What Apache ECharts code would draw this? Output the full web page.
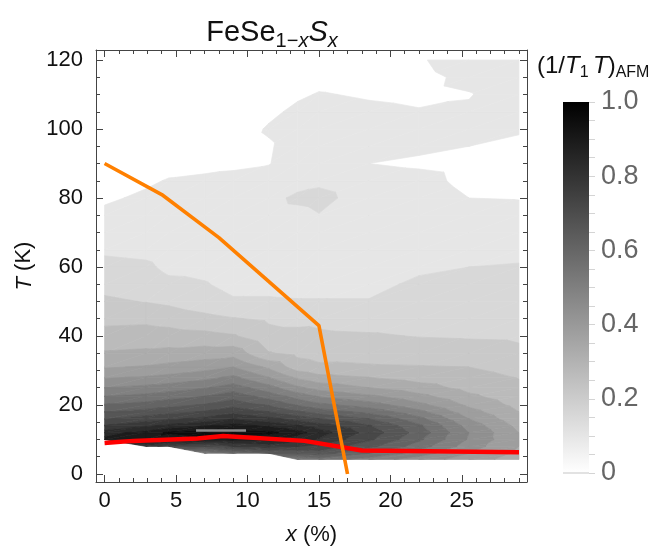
<!DOCTYPE html>
<html><head><meta charset="utf-8">
<script src="https://cdn.jsdelivr.net/npm/echarts@6/dist/echarts.min.js"></script>
<style>html,body{margin:0;padding:0;background:#fff}#c{width:662px;height:552px}</style>
</head><body><div id="c"></div>
<script>
// ---------------- data ----------------
// grid of (1/T1T)_AFM values: one array per x column, entries follow tRows
const xColumns = [0, 2.9, 4.5, 7, 9, 11.5, 13.5, 15, 18.5, 22, 25.5, 29];
const tRows = [4.2, 6, 8, 10, 12, 14, 16, 18, 20, 22.5, 25, 28, 31, 35, 40, 45, 50, 55, 60, 65, 70, 75, 80, 85, 90, 95, 100, 105, 110, 115, 120];
const afm_x0    = [null,null,null,0.765,0.73,0.655,0.595,0.55,0.505,0.45,0.4,0.345,0.295,0.255,0.22,0.185,0.158,0.135,0.113,0.093,0.075,0.06,0.043,0.03,0.025,0.025,0.025,0.025,0.025,0.025,0.025];
const afm_x2_9  = [null,null,0.675,0.78,0.77,0.69,0.625,0.57,0.52,0.465,0.415,0.355,0.305,0.26,0.223,0.188,0.148,0.125,0.108,0.088,0.078,0.065,0.058,0.043,0.025,0.025,0.025,0.025,0.025,0.025,0.025];
const afm_x4_5  = [null,null,0.625,0.765,0.81,0.715,0.64,0.585,0.535,0.48,0.425,0.365,0.315,0.265,0.22,0.18,0.14,0.11,0.09,0.08,0.075,0.07,0.063,0.053,0.035,0.025,0.025,0.025,0.025,0.025,0.025];
const afm_x7    = [null,0.45,0.6,0.78,0.83,0.745,0.665,0.605,0.555,0.5,0.445,0.385,0.33,0.275,0.215,0.165,0.12,0.103,0.088,0.08,0.078,0.075,0.068,0.058,0.038,0.025,0.025,0.025,0.025,0.025,0.025];
const afm_x9    = [null,0.5,0.65,0.77,0.835,0.77,0.695,0.635,0.585,0.53,0.475,0.41,0.35,0.28,0.205,0.153,0.105,0.088,0.08,0.078,0.075,0.075,0.073,0.06,0.043,0.03,0.025,0.025,0.025,0.025,0.025];
const afm_x11_5 = [null,0.55,0.675,0.765,0.815,0.74,0.665,0.6,0.545,0.48,0.42,0.35,0.29,0.203,0.165,0.143,0.105,0.088,0.08,0.078,0.078,0.08,0.085,0.07,0.048,0.045,0.055,0.04,0.03,0.025,0.025];
const afm_x13_5 = [0.45,0.565,0.65,0.725,0.77,0.705,0.63,0.56,0.495,0.43,0.36,0.29,0.225,0.188,0.165,0.135,0.103,0.085,0.08,0.078,0.08,0.085,0.11,0.08,0.075,0.073,0.07,0.06,0.043,0.03,0.025];
const afm_x15   = [0.475,0.575,0.64,0.695,0.725,0.675,0.6,0.53,0.465,0.395,0.33,0.265,0.21,0.18,0.158,0.138,0.103,0.085,0.08,0.078,0.075,0.098,0.115,0.09,0.078,0.075,0.073,0.068,0.053,0.035,0.025];
const afm_x18_5 = [0.425,0.5,0.565,0.61,0.63,0.605,0.55,0.485,0.425,0.36,0.3,0.25,0.205,0.183,0.155,0.13,0.103,0.085,0.08,0.078,0.075,0.075,0.075,0.07,0.05,0.065,0.07,0.06,0.045,0.03,0.025];
const afm_x22   = [0.375,0.425,0.475,0.51,0.53,0.51,0.465,0.415,0.365,0.315,0.27,0.23,0.203,0.178,0.148,0.128,0.12,0.11,0.09,0.08,0.078,0.075,0.075,0.065,0.043,0.058,0.068,0.053,0.04,0.038,0.045];
const afm_x25_5 = [0.325,0.35,0.375,0.395,0.4,0.38,0.35,0.32,0.29,0.26,0.235,0.215,0.2,0.173,0.145,0.125,0.115,0.105,0.1,0.085,0.08,0.07,0.05,0.038,0.035,0.05,0.065,0.055,0.048,0.06,0.075];
const afm_x29   = [0.275,0.29,0.3,0.305,0.3,0.285,0.265,0.25,0.235,0.22,0.21,0.198,0.185,0.16,0.143,0.13,0.12,0.11,0.103,0.09,0.08,0.065,0.048,0.03,0.03,0.04,0.055,0.068,0.07,0.073,0.075];
const afmColumns = [afm_x0, afm_x2_9, afm_x4_5, afm_x7, afm_x9, afm_x11_5, afm_x13_5, afm_x15, afm_x18_5, afm_x22, afm_x25_5, afm_x29];
const contourLevels = [0.05,0.10,0.15,0.20,0.25,0.30,0.35,0.40,0.45,0.50,0.55,0.60,0.65,0.70,0.75,0.80,0.85];

// structural transition Ts (orange) and superconducting Tc (red)
const tsX = [0, 4, 8, 15, 17];
const tsT = [90, 81, 68.5, 43, 0];
const tcX = [0, 2, 6.5, 8.3, 14, 18, 29];
const tcT = [9.0, 9.6, 10.3, 11.0, 9.6, 6.8, 6.3];
// thin light streak at the maximum
const peakX = [6.4, 9.9];
const peakT = [12.6, 12.6];

// ticks
const xMajorTicks = [0, 5, 10, 15, 20, 25];
const xMinorTicks = [0,1,2,3,4,5,6,7,8,9,10,11,12,13,14,15,16,17,18,19,20,21,22,23,24,25,26,27,28,29];
const yMajorTicks = [0, 20, 40, 60, 80, 100, 120];
const yMinorTicks = [0,5,10,15,20,25,30,35,40,45,50,55,60,65,70,75,80,85,90,95,100,105,110,115,120];
const cbarLabels = [0, 0.2, 0.4, 0.6, 0.8, 1.0];
const cbarMinor = [0,0.05,0.1,0.15,0.2,0.25,0.3,0.35,0.4,0.45,0.5,0.55,0.6,0.65,0.7,0.75,0.8,0.85,0.9,0.95,1.0];
const cbarRange = [0, 1];

// ---------------- contour geometry ----------------
function clipPoly(poly, level, keepAbove) {
  const out = [];
  for (let i = 0; i < poly.length; i++) {
    const a = poly[i], b = poly[(i + 1) % poly.length];
    const ina = keepAbove ? a[2] >= level : a[2] <= level;
    const inb = keepAbove ? b[2] >= level : b[2] <= level;
    if (ina) out.push(a);
    if (ina !== inb) {
      const t = (level - a[2]) / (b[2] - a[2]);
      out.push([a[0] + t * (b[0] - a[0]), a[1] + t * (b[1] - a[1]), level]);
    }
  }
  return out;
}
const tris = [];
function node(i, j) {
  const v = afmColumns[i][j];
  return v == null ? null : [xColumns[i], tRows[j], v];
}
for (let i = 0; i < xColumns.length - 1; i++) {
  for (let j = 0; j < tRows.length - 1; j++) {
    const a = node(i, j), b = node(i + 1, j), c = node(i + 1, j + 1), d = node(i, j + 1);
    const pts = [a, b, c, d];
    const nn = pts.filter(p => !p).length;
    if (nn === 0) { tris.push([a, b, c], [a, c, d]); }
    else if (nn === 1) { tris.push(pts.filter(p => p)); }
  }
}
const bandPolys = [];
for (let k = 0; k < contourLevels.length; k++) {
  const lo = contourLevels[k], hi = contourLevels[k + 1];
  tris.forEach(tri => {
    let p = clipPoly(tri, lo, true);
    if (p.length >= 3 && hi !== undefined) p = clipPoly(p, hi, false);
    if (p.length >= 3) bandPolys.push({ k: k, pts: p });
  });
}
function bandColor(k) {
  const g = Math.max(0, Math.round(230 - 14.4 * k));
  return 'rgb(' + g + ',' + g + ',' + g + ')';
}

// ---------------- chart ----------------
const FONT = "'Liberation Sans', Arial, Helvetica, sans-serif";
const X_MIN = -0.6, X_MAX = 29.56, Y_MIN = -2.32, Y_MAX = 122.9;
const FRAME = '#444';

function frameAxis(dim, pos, ticks, len, showLine, showLabels) {
  const ax = {
    type: 'value', gridIndex: 0, position: pos,
    min: dim === 'x' ? X_MIN : Y_MIN, max: dim === 'x' ? X_MAX : Y_MAX,
    z: 10,
    axisLine: { show: showLine, onZero: false, lineStyle: { color: FRAME, width: 1 } },
    axisTick: { show: true, inside: true, length: len, customValues: ticks, lineStyle: { color: FRAME, width: 1 } },
    axisLabel: showLabels ? { show: true, customValues: ticks, color: '#111', fontSize: 22, fontFamily: FONT, margin: dim === 'x' ? 8 : 13 } : { show: false },
    splitLine: { show: false }
  };
  return ax;
}
const xAxes = [
  frameAxis('x', 'bottom', xMajorTicks, 7, true, true),
  frameAxis('x', 'bottom', xMinorTicks, 4, false, false),
  frameAxis('x', 'top', xMajorTicks, 7, true, false),
  frameAxis('x', 'top', xMinorTicks, 4, false, false),
  { type: 'category', gridIndex: 1, data: ['c'], show: false }
];
xAxes[0].name = '{i|x} (%)';
xAxes[0].nameLocation = 'middle';
xAxes[0].nameGap = 42;
xAxes[0].nameTextStyle = { fontSize: 22, color: '#111', fontFamily: FONT, rich: { i: { fontSize: 22, fontStyle: 'italic', fontFamily: FONT, color: '#111' } } };

const yAxes = [
  frameAxis('y', 'left', yMajorTicks, 7, true, true),
  frameAxis('y', 'left', yMinorTicks, 4, false, false),
  frameAxis('y', 'right', yMajorTicks, 7, true, false),
  frameAxis('y', 'right', yMinorTicks, 4, false, false),
  {
    type: 'value', gridIndex: 1, position: 'right', min: cbarRange[0], max: cbarRange[1],
    axisLine: { show: false },
    axisTick: { show: true, inside: false, length: 6, customValues: cbarMinor, lineStyle: { color: '#d4d4d4', width: 1 } },
    axisLabel: { show: true, customValues: cbarLabels, margin: 12, color: '#666', fontSize: 27, fontFamily: FONT,
      formatter: v => (v === 0 ? '0' : v.toFixed(1)) },
    splitLine: { show: false }
  }
];
yAxes[0].name = '{i|T} (K)';
yAxes[0].nameLocation = 'middle';
yAxes[0].nameRotate = 90;
yAxes[0].nameGap = 58;
yAxes[0].nameTextStyle = { fontSize: 22, color: '#111', fontFamily: FONT, rich: { i: { fontSize: 22, fontStyle: 'italic', fontFamily: FONT, color: '#111' } } };

const chart = echarts.init(document.getElementById('c'), null, { renderer: 'canvas' });
chart.setOption({
  animation: false,
  backgroundColor: '#fff',
  title: {
    text: '{n|FeSe}{s|1−}{si|x}{i|S}{si|x}',
    left: 267, top: 10, textAlign: 'center',
    textStyle: {
      fontWeight: 'normal',
      rich: {
        n: { fontSize: 29, fontFamily: FONT, fontWeight: 'normal', color: '#111', lineHeight: 36 },
        i: { fontSize: 29, fontFamily: FONT, fontWeight: 'normal', fontStyle: 'italic', color: '#111', lineHeight: 36 },
        s: { fontSize: 20, fontFamily: FONT, fontWeight: 'normal', color: '#111', verticalAlign: 'bottom', lineHeight: 16 },
        si: { fontSize: 20, fontFamily: FONT, fontWeight: 'normal', fontStyle: 'italic', color: '#111', verticalAlign: 'bottom', lineHeight: 16 }
      }
    }
  },
  graphic: [{
    type: 'text', left: 537, top: 54, z: 20,
    style: {
      text: '{m|(1/}{i|T}{s|1 }{i|T}{m|)}{s|AFM}',
      rich: {
        m: { fontSize: 24, fontFamily: FONT, fill: '#111', lineHeight: 30 },
        i: { fontSize: 24, fontFamily: FONT, fontStyle: 'italic', fill: '#111', lineHeight: 30 },
        s: { fontSize: 16, fontFamily: FONT, fill: '#111', verticalAlign: 'bottom', lineHeight: 14 }
      }
    }
  }],
  grid: [
    { left: 96, right: 135, top: 50, bottom: 70, containLabel: false },
    { left: 563, width: 26, top: 102, bottom: 79, containLabel: false }
  ],
  xAxis: xAxes,
  yAxis: yAxes,
  series: [
    {
      type: 'custom', name: 'AFM', xAxisIndex: 0, yAxisIndex: 0, coordinateSystem: 'cartesian2d',
      silent: true, clip: true, z: 1, progressive: 0,
      data: bandPolys.map((p, i) => [p.pts[0][0], p.pts[0][1], i]),
      encode: { x: 0, y: 1 },
      renderItem: function (params, api) {
        const p = bandPolys[params.dataIndex];
        const col = bandColor(p.k);
        return {
          type: 'polygon',
          shape: { points: p.pts.map(q => api.coord([q[0], q[1]])) },
          style: { fill: col, stroke: col, lineWidth: 0.7 }
        };
      }
    },
    {
      type: 'line', name: 'peak', xAxisIndex: 0, yAxisIndex: 0, z: 3,
      data: peakX.map((x, i) => [x, peakT[i]]), symbol: 'none', silent: true,
      lineStyle: { color: '#8a8a8a', width: 2.5 }
    },
    {
      type: 'line', name: 'Tc', xAxisIndex: 0, yAxisIndex: 0, z: 4,
      data: tcX.map((x, i) => [x, tcT[i]]), symbol: 'none', silent: true,
      lineStyle: { color: '#ff0000', width: 4.5 }
    },
    {
      type: 'line', name: 'Ts', xAxisIndex: 0, yAxisIndex: 0, z: 5,
      data: tsX.map((x, i) => [x, tsT[i]]), symbol: 'none', silent: true,
      lineStyle: { color: '#ff8000', width: 3.6 }
    },
    {
      type: 'bar', name: 'colorbar', xAxisIndex: 4, yAxisIndex: 4, silent: true,
      data: [cbarRange[1]], barWidth: '100%',
      itemStyle: {
        color: new echarts.graphic.LinearGradient(0, 0, 0, 1, [
          { offset: 0, color: '#000000' }, { offset: 1, color: '#ffffff' }
        ])
      },
      markLine: {
        silent: true, symbol: 'none', label: { show: false },
        lineStyle: { color: '#d8d8d8', type: 'solid', width: 1.5 },
        data: [{ yAxis: cbarRange[0] }]
      }
    }
  ]
});
</script>
</body></html>
